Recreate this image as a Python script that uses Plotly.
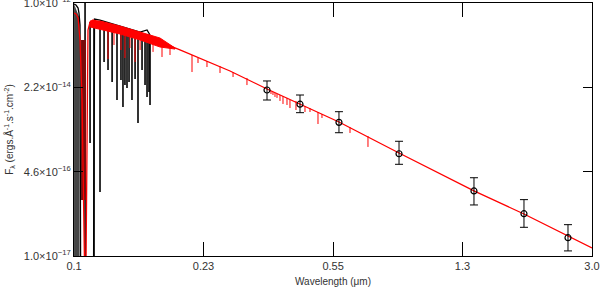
import plotly.graph_objects as go

# ---- photometric points (wavelength in micron, flux, upper/lower error bar ends)
phot_wl = [0.3551, 0.4410, 0.5696, 0.8450, 1.3823, 1.9195, 2.5630]
phot_flux = [1.91e-14, 1.00e-14, 4.38e-15, 1.05e-15, 1.93e-16, 6.86e-17, 2.30e-17]
phot_hi = [2.88e-14, 1.52e-14, 7.11e-15, 1.85e-15, 3.52e-16, 1.30e-16, 4.16e-17]
phot_lo = [1.21e-14, 6.80e-15, 2.73e-15, 6.49e-16, 1.02e-16, 3.69e-17, 1.26e-17]

# ---- red model spectrum: continuum
model_wl = [0.1000, 0.1013, 0.1027, 0.1040, 0.1054, 0.1064, 0.1071, 0.1082, 0.1089, 0.1096,
            0.1111, 0.1133, 0.1186, 0.1352, 0.1543, 0.1759, 0.2005, 0.2785, 0.3551, 0.4410,
            0.5696, 0.8450, 1.3823, 1.9195, 2.5630, 3.0000]
model_flux = [6.34e-13, 6.06e-13, 5.05e-13, 1.86e-13, 1.21e-14, 3.18e-16, 7.61e-18, 7.61e-18, 4.87e-15, 2.93e-13,
              4.21e-13, 4.61e-13, 4.21e-13, 3.21e-13, 2.33e-13, 1.70e-13, 1.18e-13, 4.53e-14, 2.00e-14, 1.01e-14,
              4.45e-15, 1.085e-15, 1.93e-16, 6.76e-17, 2.48e-17, 1.44e-17]

# dense UV line blanketing band of the model (upper and lower envelope)
band_wl = [0.1111, 0.1186, 0.1352, 0.1543, 0.1759, 0.1941]
band_top = [4.41e-13, 4.41e-13, 3.51e-13, 2.67e-13, 2.03e-13, 1.29e-13]
band_bot = [3.36e-13, 3.06e-13, 2.44e-13, 1.86e-13, 1.35e-13, 1.23e-13]

# dark red Lyman region of the model
dip_wl = [0.1047, 0.1082]
dip_top = 1.86e-13
dip_bot = 1.28e-16

# model absorption lines
mline_wl = [0.1250, 0.1300, 0.1361, 0.1397, 0.1444, 0.1493, 0.1543, 0.1680, 0.1782, 0.1878,
            0.2170, 0.2257, 0.2394, 0.2608, 0.2841, 0.3113, 0.3645, 0.3693, 0.3742, 0.3792,
            0.3867, 0.3944, 0.4049, 0.4129, 0.4295, 0.4557, 0.4709, 0.4963, 0.5095, 0.6124, 0.6891]
mline_top = [3.85e-13, 3.51e-13, 3.21e-13, 2.93e-13, 2.80e-13, 2.55e-13, 2.33e-13, 1.94e-13, 1.70e-13, 1.48e-13,
             9.38e-14, 8.18e-14, 7.14e-14, 5.69e-14, 4.33e-14, 3.30e-14, 1.82e-14, 1.74e-14, 1.66e-14, 1.59e-14,
             1.52e-14, 1.45e-14, 1.33e-14, 1.21e-14, 1.16e-14, 9.21e-15, 8.41e-15, 7.01e-15, 6.40e-15, 3.54e-15, 2.35e-15]
mline_bot = [7.82e-14, 1.48e-13, 1.18e-13, 8.18e-14, 1.29e-13, 6.82e-14, 1.18e-13, 1.08e-13, 8.57e-14, 9.38e-14,
             4.33e-14, 6.52e-14, 5.43e-14, 4.14e-14, 3.45e-14, 2.39e-14, 1.59e-14, 1.52e-14, 1.39e-14, 1.33e-14,
             1.16e-14, 1.01e-14, 9.64e-15, 8.41e-15, 7.68e-15, 7.01e-15, 7.01e-15, 4.06e-15, 5.34e-15, 2.70e-15, 1.43e-15]

# ---- black observed UV spectrum
obs_wl = [0.1000, 0.1013, 0.1027, 0.1033, 0.1040, 0.1044, 0.1137, 0.1144, 0.1186, 0.1267,
          0.1352, 0.1444, 0.1543, 0.1615, 0.1647]
obs_flux = [9.55e-13, 9.13e-13, 7.96e-13, 6.34e-13, 3.67e-13, 7.61e-18, 7.61e-18, 4.83e-13, 4.61e-13, 4.02e-13,
            3.51e-13, 3.06e-13, 2.67e-13, 2.93e-13, 2.33e-13]

# saturated short-wavelength block of the observed spectrum
blk_wl = [0.1000, 0.1037]
blk_top = [9.55e-13, 5.05e-13]
blk_bot = 7.61e-18

# observed absorption lines
oline_wl = [0.1075, 0.1111, 0.1140, 0.1186, 0.1218, 0.1250, 0.1284, 0.1326, 0.1361, 0.1379,
            0.1397, 0.1416, 0.1435, 0.1463, 0.1493, 0.1522, 0.1563, 0.1594, 0.1615, 0.1636, 0.1647]
oline_top = [1.00e-12, 4.21e-13, 4.21e-13, 4.41e-13, 4.21e-13, 3.85e-13, 3.51e-13, 3.21e-13, 3.06e-13, 2.93e-13,
             2.93e-13, 2.80e-13, 2.67e-13, 2.55e-13, 2.44e-13, 2.33e-13, 2.23e-13, 2.13e-13, 2.44e-13, 2.03e-13, 2.03e-13]
oline_bot = [7.61e-18, 1.71e-15, 7.61e-18, 1.84e-16, 6.82e-14, 4.74e-14, 2.75e-14, 1.21e-14, 3.01e-14, 8.81e-15,
             2.39e-14, 2.09e-14, 2.75e-14, 1.21e-14, 3.15e-14, 4.25e-15, 4.74e-14, 2.39e-14, 1.39e-14, 1.74e-14, 9.64e-15]

# ---- axis ticks
x_ticks = [0.1, 0.234, 0.548, 1.282, 3.0]
x_labels = ["0.1", "0.23", "0.55", "1.3", "3.0"]
y_ticks = [1e-12, 2.154e-14, 4.642e-16, 1e-17]
y_labels = ["1.0×10<sup>−12</sup>", "2.2×10<sup>−14</sup>", "4.6×10<sup>−16</sup>", "1.0×10<sup>−17</sup>"]


def segments(xs, tops, bots):
    sx, sy = [], []
    for x, t, b in zip(xs, tops, bots):
        sx += [x, x, None]
        sy += [t, b, None]
    return sx, sy


fig = go.Figure()

# observed block
fig.add_trace(go.Scatter(x=[blk_wl[0], blk_wl[1], blk_wl[1], blk_wl[0]],
                         y=[blk_top[0], blk_top[1], blk_bot, blk_bot],
                         fill="toself", fillcolor="#454545", mode="lines",
                         line=dict(color="#454545", width=0), hoverinfo="skip"))
# observed lines
sx, sy = segments(oline_wl, oline_top, oline_bot)
fig.add_trace(go.Scatter(x=sx, y=sy, mode="lines", line=dict(color="black", width=1.6),
                         connectgaps=False))
# observed spectrum
fig.add_trace(go.Scatter(x=obs_wl, y=obs_flux, mode="lines", line=dict(color="black", width=1.3)))

# model dark dip band
fig.add_trace(go.Scatter(x=[dip_wl[0], dip_wl[1], dip_wl[1], dip_wl[0]],
                         y=[dip_top, dip_top, dip_bot, dip_bot],
                         fill="toself", fillcolor="rgb(120,12,12)", mode="lines",
                         line=dict(width=0), hoverinfo="skip"))
# model line-blanketing band
fig.add_trace(go.Scatter(x=band_wl + band_wl[::-1], y=band_top + band_bot[::-1],
                         fill="toself", fillcolor="#ff0000", mode="lines",
                         line=dict(color="#ff0000", width=1)))
# model lines
sx, sy = segments(mline_wl, mline_top, mline_bot)
fig.add_trace(go.Scatter(x=sx, y=sy, mode="lines", line=dict(color="#ff0000", width=1),
                         connectgaps=False))
# model continuum
fig.add_trace(go.Scatter(x=model_wl, y=model_flux, mode="lines", line=dict(color="#ff0000", width=1.3)))

# photometry
err_plus = [h - f for h, f in zip(phot_hi, phot_flux)]
err_minus = [f - l for f, l in zip(phot_flux, phot_lo)]
fig.add_trace(go.Scatter(x=phot_wl, y=phot_flux, mode="markers",
                         marker=dict(symbol="circle-open", size=6, color="black", line=dict(width=1.2)),
                         error_y=dict(type="data", array=err_plus, arrayminus=err_minus,
                                      color="black", thickness=1, width=4)))

axis_font = dict(family="Liberation Sans, Arial, sans-serif", size=11, color="#333")
fig.update_layout(
    width=600, height=291,
    margin=dict(l=74, r=8, t=3, b=35, autoexpand=False),
    paper_bgcolor="white", plot_bgcolor="white",
    showlegend=False,
    font=axis_font,
)
fig.update_xaxes(type="log", range=[-1.0001, 0.47722], tickvals=x_ticks, ticktext=x_labels,
                 ticks="inside", ticklen=14, tickcolor="black", tickwidth=1,
                 showline=True, linecolor="black", linewidth=1, mirror="allticks",
                 showgrid=False, zeroline=False, tickfont=axis_font, automargin=False,
                 ticklabeloverflow="allow",
                 title=dict(text="Wavelength (μm)", font=dict(family="Liberation Sans, Arial, sans-serif", size=10, color="#333"), standoff=6))
fig.update_yaxes(type="log", range=[-17.0001, -11.9999], tickvals=y_ticks, ticktext=y_labels,
                 ticks="inside", ticklen=9, tickcolor="black", tickwidth=1,
                 showline=True, linecolor="black", linewidth=1, mirror="allticks",
                 showgrid=False, zeroline=False, tickfont=axis_font, automargin=False,
                 ticklabeloverflow="allow",
                 title=dict(text="F<sub>λ</sub> (ergs.Å<sup>-1</sup>.s<sup>-1</sup>.cm<sup>-2</sup>)",
                            font=dict(family="Liberation Sans, Arial, sans-serif", size=10, color="#333"),
                            standoff=8))

fig.write_html("out.html", config={"displayModeBar": False},
               post_script="document.body.style.margin='0';document.body.style.padding='0';")
